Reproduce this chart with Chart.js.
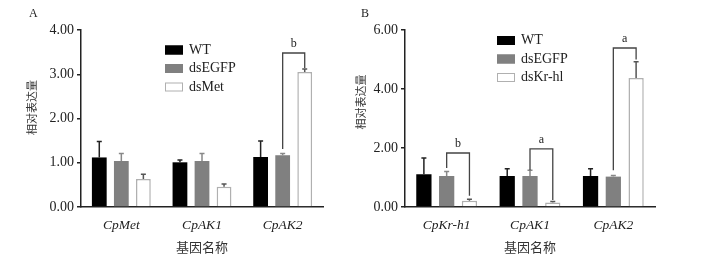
<!DOCTYPE html>
<html>
<head>
<meta charset="utf-8">
<script src="https://cdn.jsdelivr.net/npm/chart.js@4.4.1/dist/chart.umd.min.js"></script>
<style>
  body { margin: 0; background: #fff; }
  #wrap { position: relative; width: 727px; height: 261px; }
  .panel { position: absolute; top: 0; height: 261px; }
  #panelA { left: 0; width: 350px; }
  #panelB { left: 350px; width: 377px; }
  .tag { position: absolute; top: 6px; font: 12px 'Liberation Serif', serif; color: #222; }
</style>
</head>
<body>
<div id="wrap">
  <div class="panel" id="panelA"><canvas id="chartA"></canvas></div>
  <div class="panel" id="panelB"><canvas id="chartB"></canvas></div>
  <div class="tag" style="left:29px">A</div>
  <div class="tag" style="left:361px">B</div>
</div>
<script>
// Panel A values
const catsA = ['CpMet', 'CpAK1', 'CpAK2'];
const wtA = [1.12, 1.01, 1.13];
const wtErrA = [0.36, 0.05, 0.36];
const egfpA = [1.04, 1.04, 1.17];
const egfpErrA = [0.17, 0.17, 0.04];
const dsMetA = [0.63, 0.46, 3.05];
const dsMetErrA = [0.11, 0.06, 0.07];
const ticksA = [0, 1, 2, 3, 4];

// Panel B values
const catsB = ['CpKr-h1', 'CpAK1', 'CpAK2'];
const wtB = [1.11, 1.05, 1.05];
const wtErrB = [0.55, 0.25, 0.25];
const egfpB = [1.05, 1.05, 1.03];
const egfpErrB = [0.15, 0.20, 0.04];
const dsKrB = [0.21, 0.15, 4.37];
const dsKrErrB = [0.05, 0.04, 0.55];
const ticksB = [0, 2, 4, 6];

// significance brackets: [category, from series, to series, top, left end, right end, letter]
const bracketsA = [[2, 1, 2, 3.48, 1.31, 3.14, 'b']];
const bracketsB = [
    [0, 1, 2, 1.83, 1.32, 0.38, 'b'],
    [1, 1, 2, 1.97, 1.25, 0.24, 'a'],
    [2, 1, 2, 5.39, 1.25, 5.00, 'a']
];

const serif = "'Liberation Serif', 'Times New Roman', serif";
const cjk = "'Noto Sans CJK SC', sans-serif";

// one-sided error bars on top of each bar
const errorBars = {
    id: 'errorBars',
    afterDatasetsDraw(chart) {
        const { ctx, scales: { y } } = chart;
        ctx.save();
        ctx.lineWidth = 1.5;
        chart.data.datasets.forEach((ds, i) => {
            chart.getDatasetMeta(i).data.forEach((bar, j) => {
                const top = y.getPixelForValue(ds.data[j] + ds.errors[j]);
                ctx.strokeStyle = ds.errColor;
                ctx.beginPath();
                ctx.moveTo(bar.x, bar.y);
                ctx.lineTo(bar.x, top);
                ctx.moveTo(bar.x - 2.5, top);
                ctx.lineTo(bar.x + 2.5, top);
                ctx.stroke();
            });
        });
        ctx.restore();
    }
};

// brackets with significance letters
const sigBrackets = {
    id: 'sigBrackets',
    afterDatasetsDraw(chart, args, opts) {
        const { ctx, scales: { y } } = chart;
        ctx.save();
        ctx.strokeStyle = '#444';
        ctx.lineWidth = 1.3;
        ctx.fillStyle = '#222';
        ctx.font = '12px ' + serif;
        ctx.textAlign = 'center';
        ctx.textBaseline = 'bottom';
        (opts.items || []).forEach(([c, a, b, top, leftEnd, rightEnd, txt]) => {
            const x1 = chart.getDatasetMeta(a).data[c].x;
            const x2 = chart.getDatasetMeta(b).data[c].x;
            const yt = y.getPixelForValue(top);
            ctx.beginPath();
            ctx.moveTo(x1, y.getPixelForValue(leftEnd));
            ctx.lineTo(x1, yt);
            ctx.lineTo(x2, yt);
            ctx.lineTo(x2, y.getPixelForValue(rightEnd));
            ctx.stroke();
            ctx.fillText(txt, (x1 + x2) / 2, yt - 3);
        });
        ctx.restore();
    }
};

// stacked legend inside the plot
const boxLegend = {
    id: 'boxLegend',
    afterDraw(chart, args, opts) {
        const { ctx } = chart;
        ctx.save();
        ctx.font = '14px ' + serif;
        ctx.textBaseline = 'middle';
        chart.data.datasets.forEach((ds, i) => {
            const cy = opts.y + i * opts.gap;
            ctx.fillStyle = ds.backgroundColor;
            ctx.fillRect(opts.x, cy - 4.5, 18, 9);
            ctx.strokeStyle = ds.borderColor;
            ctx.lineWidth = 1;
            ctx.strokeRect(opts.x + 0.5, cy - 4, 17, 8);
            ctx.fillStyle = '#222';
            ctx.fillText(ds.label, opts.x + 24, cy);
        });
        ctx.restore();
    }
};

function makeChart(id, cats, series, errs, names, ticks, brackets, cfg) {
    const looks = [
        { bg: '#000000', border: '#000000', err: '#222' },
        { bg: '#808080', border: '#808080', err: '#888' },
        { bg: '#ffffff', border: '#b0b0b0', err: '#555' }
    ];
    return new Chart(document.getElementById(id), {
        type: 'bar',
        data: {
            labels: cats,
            datasets: series.map((d, i) => ({
                label: names[i],
                data: d,
                errors: errs[i],
                errColor: looks[i].err,
                backgroundColor: looks[i].bg,
                borderColor: looks[i].border,
                borderWidth: i === 2 ? 1.5 : 0,
                categoryPercentage: 0.82,
                barPercentage: 0.67
            }))
        },
        options: {
            responsive: true,
            maintainAspectRatio: false,
            animation: false,
            layout: { padding: { left: 0, top: 30, right: cfg.padRight, bottom: 0 } },
            plugins: {
                legend: { display: false },
                tooltip: { enabled: false },
                sigBrackets: { items: brackets },
                boxLegend: cfg.legend
            },
            scales: {
                x: {
                    afterFit: s => { s.height = 54; },
                    grid: { display: false },
                    border: { display: true, color: '#222', width: 1.5 },
                    ticks: { padding: 2, color: '#222', font: { family: serif, size: 13.5, style: 'italic' } },
                    title: { display: true, text: '基因名称', padding: { top: 0, bottom: 6 }, color: '#333', font: { family: cjk, size: 13 } }
                },
                y: {
                    min: ticks[0],
                    max: ticks[ticks.length - 1],
                    afterFit: s => { s.width = cfg.axisX; },
                    afterBuildTicks: s => { s.ticks = ticks.map(v => ({ value: v })); },
                    grid: { display: true, drawOnChartArea: false, drawTicks: true, tickLength: 4, color: '#222', lineWidth: 1.5 },
                    border: { display: true, color: '#222', width: 1.5 },
                    ticks: { padding: 3, color: '#222', font: { family: serif, size: 14 }, callback: v => v.toFixed(2) },
                    title: { display: true, text: cfg.yTitle, padding: { top: cfg.titlePad, bottom: 0 }, color: '#333', font: { family: cjk, size: 11 } }
                }
            }
        },
        plugins: [errorBars, sigBrackets, boxLegend]
    });
}

makeChart('chartA', catsA, [wtA, egfpA, dsMetA], [wtErrA, egfpErrA, dsMetErrA],
    ['WT', 'dsEGFP', 'dsMet'], ticksA, bracketsA,
    { padRight: 27, axisX: 81, titlePad: 25, yTitle: '\u3000\u3000相对表达量', legend: { x: 165, y: 50, gap: 18.5 } });

makeChart('chartB', catsB, [wtB, egfpB, dsKrB], [wtErrB, egfpErrB, dsKrErrB],
    ['WT', 'dsEGFP', 'dsKr-hl'], ticksB, bracketsB,
    { padRight: 72, axisX: 55, titlePad: 4, yTitle: '\u3000\u3000\u3000相对表达量', legend: { x: 147, y: 40.5, gap: 18.5 } });
</script>
</body>
</html>
